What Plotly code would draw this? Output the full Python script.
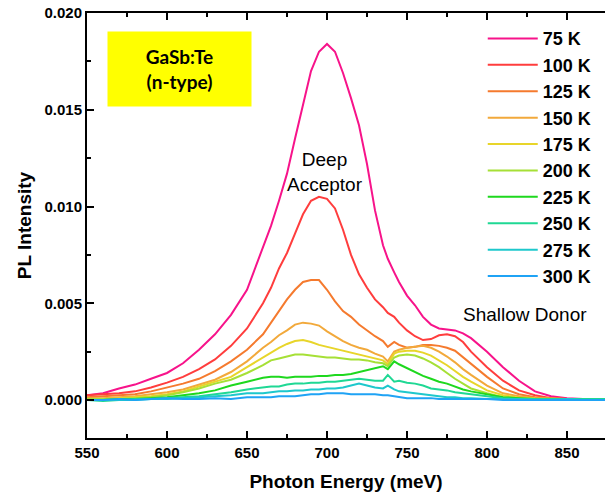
import plotly.graph_objects as go

energy_meV = [550, 560, 570, 580, 590, 600, 610, 620, 630, 640, 650, 660, 665, 670, 675, 680, 685, 690, 695,
              700, 705, 710, 715, 720, 725, 730, 735, 738, 742, 745, 750, 755, 760, 765, 770, 775, 780, 785,
              790, 800, 810, 820, 830, 840, 850, 860, 875]

temps = ["75 K", "100 K", "125 K", "150 K", "175 K", "200 K", "225 K", "250 K", "275 K", "300 K"]
colors = ["#F7138A", "#FF3D3D", "#F57A2E", "#F2A93B", "#E8D52A", "#A6E036",
          "#1ED81E", "#1FD894", "#1EC8CC", "#1FA3F5"]

# PL intensity in units of 1e-3
pl_75K = [0.25, 0.35, 0.6, 0.8, 1.1, 1.4, 1.9, 2.6, 3.4, 4.4, 5.7, 7.9, 9.0, 10.3, 11.7, 13.5, 15.3, 17.0, 18.0,
          18.4, 18.0, 16.9, 15.6, 14.2, 12.2, 9.8, 8.0, 7.3, 6.6, 6.1, 5.4, 4.9, 4.3, 3.9, 3.7, 3.65, 3.6, 3.45,
          3.2, 2.5, 1.7, 1.0, 0.45, 0.2, 0.1, 0.05, 0.05]
pl_100K = [0.25, 0.3, 0.35, 0.45, 0.65, 0.9, 1.2, 1.6, 2.1, 2.8, 3.7, 5.0, 5.8, 6.8, 7.6, 8.6, 9.6, 10.3, 10.5,
           10.4, 9.9, 8.8, 7.5, 6.5, 5.8, 5.2, 4.8, 4.5, 4.3, 4.0, 3.6, 3.3, 3.1, 3.15, 3.35, 3.4, 3.3, 3.0,
           2.5, 1.7, 1.0, 0.5, 0.25, 0.1, 0.05, 0.05, 0.05]
pl_125K = [0.15, 0.2, 0.25, 0.3, 0.45, 0.65, 0.85, 1.1, 1.5, 2.0, 2.6, 3.4, 4.0, 4.6, 5.2, 5.7, 6.1, 6.2, 6.2,
           5.7, 5.1, 4.6, 4.3, 3.9, 3.6, 3.3, 3.05, 2.75, 3.0, 2.85, 2.7, 2.75, 2.85, 2.85, 2.8, 2.7, 2.55, 2.2,
           1.85, 1.2, 0.6, 0.3, 0.15, 0.1, 0.05, 0.05, 0.05]
pl_150K = [0.1, 0.1, 0.15, 0.2, 0.3, 0.4, 0.55, 0.8, 1.05, 1.45, 2.0, 2.7, 3.0, 3.35, 3.6, 3.9, 4.0, 3.95, 3.85,
           3.55, 3.3, 3.05, 2.85, 2.7, 2.6, 2.4, 2.25, 2.0, 2.5, 2.6, 2.7, 2.75, 2.8, 2.7, 2.5, 2.25, 1.95, 1.6,
           1.3, 0.75, 0.35, 0.2, 0.1, 0.05, 0.05, 0.05, 0.05]
pl_175K = [0.05, 0.05, 0.1, 0.15, 0.2, 0.3, 0.45, 0.7, 0.95, 1.2, 1.7, 2.2, 2.45, 2.7, 2.9, 3.05, 3.1, 3.0, 2.85,
           2.75, 2.65, 2.55, 2.45, 2.35, 2.25, 2.15, 2.05, 1.85, 2.4, 2.5, 2.55, 2.55, 2.45, 2.3, 2.05, 1.8, 1.5,
           1.2, 0.95, 0.5, 0.25, 0.12, 0.08, 0.05, 0.05, 0.05, 0.05]
pl_200K = [0.05, 0.05, 0.05, 0.1, 0.15, 0.25, 0.4, 0.6, 0.85, 1.05, 1.4, 1.8, 2.05, 2.15, 2.25, 2.35, 2.35, 2.3,
           2.25, 2.2, 2.2, 2.15, 2.1, 2.1, 2.05, 1.95, 1.9, 1.75, 2.2, 2.3, 2.35, 2.3, 2.15, 1.95, 1.7, 1.4, 1.1,
           0.85, 0.6, 0.35, 0.15, 0.1, 0.05, 0.05, 0.05, 0.05, 0.05]
pl_225K = [0.0, 0.0, 0.05, 0.05, 0.1, 0.15, 0.25, 0.35, 0.5, 0.75, 0.95, 1.15, 1.2, 1.2, 1.15, 1.2, 1.2, 1.2,
           1.25, 1.25, 1.3, 1.3, 1.35, 1.45, 1.55, 1.65, 1.75, 1.6, 2.0, 1.85, 1.65, 1.45, 1.25, 1.1, 0.95, 0.85,
           0.7, 0.55, 0.45, 0.3, 0.15, 0.1, 0.05, 0.05, 0.05, 0.05, 0.05]
pl_250K = [0.0, -0.05, 0.0, 0.05, 0.05, 0.1, 0.15, 0.2, 0.3, 0.4, 0.55, 0.65, 0.7, 0.7, 0.8, 0.85, 0.85, 0.9,
           0.9, 0.95, 0.95, 1.0, 1.05, 1.1, 1.05, 1.0, 1.0, 1.3, 0.95, 1.0, 0.9, 0.85, 0.75, 0.6, 0.55, 0.5, 0.4,
           0.35, 0.3, 0.2, 0.1, 0.05, 0.05, 0.05, 0.05, 0.05, 0.05]
pl_275K = [0.0, 0.0, 0.0, 0.0, 0.05, 0.05, 0.1, 0.15, 0.2, 0.25, 0.35, 0.35, 0.4, 0.45, 0.45, 0.5, 0.5, 0.55,
           0.55, 0.6, 0.6, 0.65, 0.75, 0.85, 0.75, 0.65, 0.6, 0.75, 0.55, 0.45, 0.4, 0.35, 0.3, 0.25, 0.2, 0.15,
           0.15, 0.1, 0.1, 0.05, 0.05, 0.05, 0.0, 0.0, 0.05, 0.0, 0.0]
pl_300K = [0.0, 0.0, 0.05, 0.0, 0.05, 0.1, 0.05, 0.05, 0.1, 0.05, 0.15, 0.15, 0.15, 0.2, 0.2, 0.2, 0.25, 0.3,
           0.3, 0.35, 0.35, 0.35, 0.3, 0.3, 0.3, 0.3, 0.25, 0.25, 0.2, 0.15, 0.1, 0.1, 0.1, 0.1, 0.05, 0.05, 0.05,
           0.05, 0.05, 0.05, 0.0, 0.0, 0.0, 0.0, 0.0, 0.0, 0.0]

series = [pl_75K, pl_100K, pl_125K, pl_150K, pl_175K, pl_200K, pl_225K, pl_250K, pl_275K, pl_300K]

AX_FONT = "Arial, 'Liberation Sans', sans-serif"

fig = go.Figure()
for name, col, vals in zip(temps, colors, series):
    fig.add_trace(go.Scatter(
        x=energy_meV, y=[v * 1e-3 for v in vals], mode="lines", name=name,
        line=dict(color=col, width=2),
    ))

fig.update_layout(
    width=605, height=498,
    margin=dict(l=87, r=0, t=13, b=60),
    paper_bgcolor="white", plot_bgcolor="white",
    font=dict(family=AX_FONT, color="black"),
    legend=dict(
        x=0.764, y=0.983, xanchor="left", yanchor="top",
        font=dict(family=AX_FONT, size=18, color="black", weight="bold"),
        bgcolor="rgba(0,0,0,0)", itemwidth=50, tracegroupgap=0,
    ),
    xaxis=dict(
        range=[550, 873.75], dtick=50, tick0=550,
        showgrid=False, zeroline=False,
        showline=True, linecolor="black", linewidth=2, mirror="ticks",
        ticks="inside", ticklen=7, tickwidth=2, tickcolor="black",
        minor=dict(ticks="inside", ticklen=4, tickwidth=1.5, tickcolor="black", dtick=25),
        tickfont=dict(family=AX_FONT, size=15, color="black", weight="bold"),
        title=dict(text="Photon Energy (meV)", standoff=15,
                   font=dict(family=AX_FONT, size=19, color="black", weight="bold")),
    ),
    yaxis=dict(
        range=[-0.00196, 0.020], dtick=0.005, tick0=0, tickformat=".3f",
        showgrid=False, zeroline=False,
        showline=True, linecolor="black", linewidth=2, mirror=False,
        ticks="inside", ticklen=7, tickwidth=2, tickcolor="black",
        minor=dict(ticks="inside", ticklen=4, tickwidth=1.5, tickcolor="black", dtick=0.0025),
        tickfont=dict(family=AX_FONT, size=15, color="black", weight="bold"),
        title=dict(text="PL Intensity", standoff=8,
                   font=dict(family=AX_FONT, size=19, color="black", weight="bold")),
    ),
    annotations=[
        dict(x=607.8, y=0.0171, xref="x", yref="y", text="GaSb:Te<br>(n-type)",
             showarrow=False, bgcolor="#FFFF00", width=141, height=72,
             font=dict(family="Lato, 'Open Sans', sans-serif", size=19, color="black", weight="bold")),
        dict(x=699, y=0.0118, xref="x", yref="y", text="Deep<br>Acceptor", showarrow=False,
             font=dict(family=AX_FONT, size=19, color="black")),
        dict(x=824, y=0.0044, xref="x", yref="y", text="Shallow Donor", showarrow=False,
             font=dict(family=AX_FONT, size=19, color="black")),
    ],
)

fig.write_html("out.html")
